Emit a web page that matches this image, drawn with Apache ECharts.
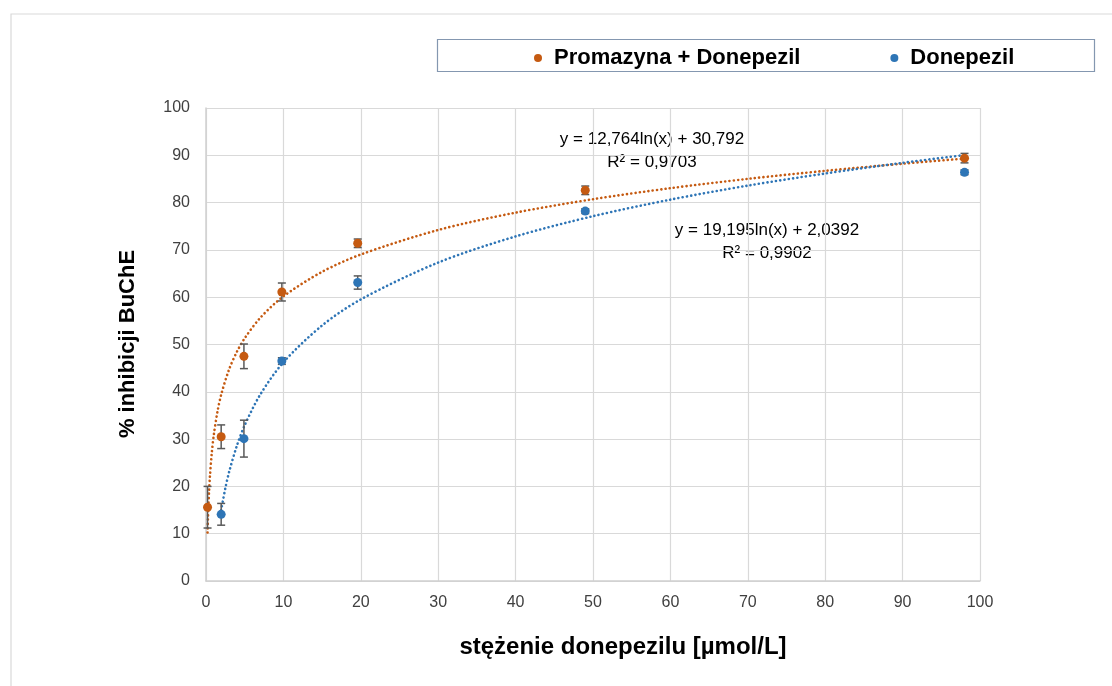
<!DOCTYPE html>
<html><head><meta charset="utf-8">
<script src="https://cdn.jsdelivr.net/npm/echarts@6/dist/echarts.min.js"></script>
<style>html,body{margin:0;padding:0;background:#fff}#c{width:1112px;height:686px}</style>
</head><body><div id="c"></div>
<script>
// Data
const concOrange = [0.2, 1.96, 4.9, 9.8, 19.6, 49, 98];
const valOrange  = [15.6, 30.5, 47.5, 61.1, 71.4, 82.6, 89.4];
const errOrange  = [4.4, 2.5, 2.6, 1.9, 0.9, 0.9, 1.0];
const concBlue = [1.96, 4.9, 9.8, 19.6, 49, 98];
const valBlue  = [14.1, 30.1, 46.5, 63.1, 78.2, 86.4];
const errBlue  = [2.3, 3.9, 0.7, 1.4, 0.5, 0.5];
// trend curves
const trendOrangeX = [0.2, 0.25, 0.3, 0.4, 0.5, 0.75, 1, 1.5, 2, 3, 4, 5, 7, 10, 15, 20, 30, 40, 50, 60, 70, 80, 90, 98];
const trendOrangeY = [10.25, 13.10, 15.42, 19.10, 21.94, 27.12, 30.79, 35.97, 39.64, 44.81, 48.49, 51.33, 55.63, 60.18, 65.36, 69.03, 74.21, 77.88, 80.72, 83.05, 85.02, 86.72, 88.23, 89.31];
const trendBlueX = [1.96, 2.5, 3, 4, 5, 7, 10, 15, 20, 30, 40, 50, 60, 70, 80, 90, 98];
const trendBlueY = [14.96, 19.63, 23.13, 28.65, 32.93, 39.39, 46.24, 54.02, 59.54, 67.33, 72.85, 77.13, 80.63, 83.59, 86.15, 88.41, 90.05];
const seriesNames = ['Promazyna + Donepezil', 'Donepezil'];
const eqOrange = ['y = 12,764ln(x) + 30,792', 'R² = 0,9703'];
const eqBlue = ['y = 19,195ln(x) + 2,0392', 'R² = 0,9902'];
const xTitle = 'stężenie donepezilu [µmol/L]';
const yTitle = '% inhibicji BuChE';

const C_OR = '#C55A11', C_BL = '#2E75B6';
const font = 'Liberation Sans';
const zip = (a,b,c) => a.map((v,i)=> c ? [v,b[i],c[i]] : [v,b[i]]);

function errRender(params, api){
  const x = api.value(0), y = api.value(1), e = api.value(2);
  const top = api.coord([x, y+e]), bot = api.coord([x, y-e]);
  const w = 4;
  const st = {stroke:'#595959', lineWidth:1.5};
  return {type:'group', children:[
    {type:'line', shape:{x1:top[0],y1:top[1],x2:bot[0],y2:bot[1]}, style:st},
    {type:'line', shape:{x1:top[0]-w,y1:top[1],x2:top[0]+w,y2:top[1]}, style:st},
    {type:'line', shape:{x1:bot[0]-w,y1:bot[1],x2:bot[0]+w,y2:bot[1]}, style:st}
  ]};
}

const chart = echarts.init(document.getElementById('c'), null, {renderer:'canvas'});
const dotted = c => ({color:c, width:2.6, type:[0.1,4.2], cap:'round'});
const eqText = (x,y,t) => ({type:'text', x:x, y:y, style:{text:t, font:'17px '+font, fill:'#000', textAlign:'center', textVerticalAlign:'middle'}});
chart.setOption({
  animation:false,
  backgroundColor:'#fff',
  textStyle:{fontFamily:font},
  grid:{left:206, right:132, top:108, bottom:105},
  legend:{
    top:42, left:529, itemGap:90, itemWidth:8, itemHeight:8, icon:'circle',
    data:[{name:seriesNames[0]},{name:seriesNames[1]}],
    textStyle:{fontFamily:font, fontSize:22, fontWeight:'bold', color:'#000', padding:[0,0,0,7]}
  },
  xAxis:{
    type:'value', min:0, max:100, interval:10,
    axisLine:{show:true, lineStyle:{color:'#d0d0d0', width:1.5}},
    axisTick:{show:false},
    axisLabel:{fontSize:16, color:'#404040', margin:14, fontFamily:font},
    splitLine:{show:true, lineStyle:{color:'#d9d9d9', width:1.2}}
  },
  yAxis:{
    type:'value', min:0, max:100, interval:10,
    axisLine:{show:true, lineStyle:{color:'#d0d0d0', width:1.5}},
    axisTick:{show:false},
    axisLabel:{fontSize:16, color:'#404040', margin:16, fontFamily:font},
    splitLine:{show:true, lineStyle:{color:'#d9d9d9', width:1.2}}
  },
  graphic:[
    {type:'rect', shape:{x:11, y:14, width:1110, height:700}, style:{fill:'none', stroke:'#d9d9d9', lineWidth:1.2}, z:-1},
    {type:'rect', shape:{x:437.5, y:39.5, width:657, height:32}, style:{fill:'none', stroke:'#8497b0', lineWidth:1.2}},
    eqText(652, 139, eqOrange[0]),
    eqText(652, 162, eqOrange[1]),
    eqText(767, 230, eqBlue[0]),
    eqText(767, 253, eqBlue[1]),
    {type:'text', x:623, y:647, style:{text:xTitle, font:'bold 24px '+font, fill:'#000', textAlign:'center', textVerticalAlign:'middle'}},
    {type:'text', x:128, y:344, rotation:Math.PI/2, style:{text:yTitle, font:'bold 22px '+font, fill:'#000', textAlign:'center', textVerticalAlign:'middle'}}
  ],
  series:[
    {name:seriesNames[0], type:'line', data:zip(trendOrangeX, trendOrangeY), smooth:0.3, showSymbol:false, lineStyle:dotted(C_OR), itemStyle:{color:C_OR}, z:2},
    {name:seriesNames[1], type:'line', data:zip(trendBlueX, trendBlueY), smooth:0.3, showSymbol:false, lineStyle:dotted(C_BL), itemStyle:{color:C_BL}, z:2},
    {name:'errO', type:'custom', renderItem:errRender, data:zip(concOrange, valOrange, errOrange), z:4},
    {name:'errB', type:'custom', renderItem:errRender, data:zip(concBlue, valBlue, errBlue), z:4},
    {name:seriesNames[0], type:'scatter', data:zip(concOrange, valOrange), symbol:'circle', symbolSize:9, itemStyle:{color:C_OR, opacity:1}, z:5},
    {name:seriesNames[1], type:'scatter', data:zip(concBlue, valBlue), symbol:'circle', symbolSize:9, itemStyle:{color:C_BL, opacity:1}, z:5}
  ]
});
</script></body></html>
